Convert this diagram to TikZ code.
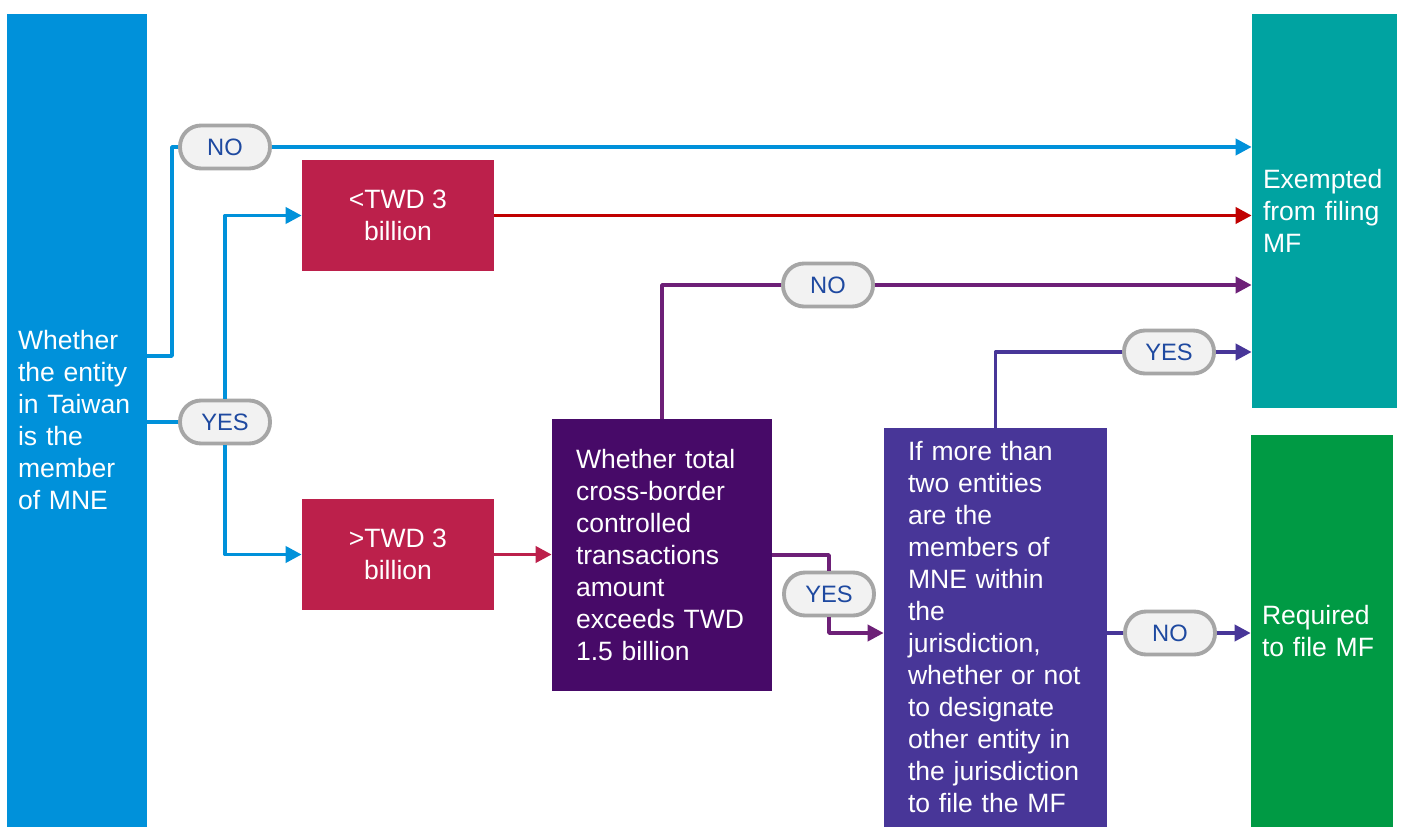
\documentclass[tikz,border=0pt]{standalone}
\usepackage{fontspec}
\setmainfont{Liberation Sans}
\usetikzlibrary{arrows.meta}

\definecolor{mneblue}{HTML}{0091DA}
\definecolor{revred}{HTML}{BC204B}
\definecolor{darkred}{HTML}{C00000}
\definecolor{totalpurple}{HTML}{470A68}
\definecolor{linepurple}{HTML}{6D2077}
\definecolor{designindigo}{HTML}{483698}
\definecolor{exemptteal}{HTML}{00A3A1}
\definecolor{requiredgreen}{HTML}{009A44}
\definecolor{pillgray}{HTML}{A6A6A6}
\definecolor{pillfill}{HTML}{F2F2F2}
\definecolor{pilltext}{HTML}{1E49A0}

\begin{document}
\begin{tikzpicture}[
    x = 0.02cm, y = -0.02cm,
    line join=round,
    boxstyle/.style = {draw=none, text=white, inner ysep=0pt, font=\fontsize{15.1}{18.2}\selectfont},
    pillstyle/.style = {draw=pillgray, line width=2.2pt, fill=pillfill, rounded corners=0.42cm,
        minimum width=1.8cm, minimum height=0.86cm, text=pilltext, font=\fontsize{13.5}{16}\selectfont},
    wire/.style = {line width=2.1pt},
    flow/.style = {wire, -{Triangle[length=0.32cm, width=0.32cm]}}
]

\fill[white] (0,0) rectangle (1402,827);
\useasboundingbox (0,0) rectangle (1402,827);

% boxes
\node[boxstyle, fill=mneblue, minimum width=2.8cm, minimum height=16.26cm,
    text width=2.36cm, inner xsep=0.22cm, align=left] (member) at (77,420.5)
    {\\[-8pt]Whether\\the entity\\in Taiwan\\is the\\member\\of MNE};
\node[boxstyle, fill=revred, minimum width=3.84cm, minimum height=2.22cm, align=center]
    (lowrev) at (398,215.5) {<TWD 3\\billion};
\node[boxstyle, fill=revred, minimum width=3.84cm, minimum height=2.22cm, align=center]
    (highrev) at (398,554.5) {>TWD 3\\billion};
\node[boxstyle, fill=totalpurple, minimum width=4.4cm, minimum height=5.44cm,
    text width=3.44cm, inner xsep=0.48cm, align=left] (total) at (662,555)
    {Whether total\\cross-border\\controlled\\transactions\\amount\\exceeds TWD\\1.5 billion};
\node[boxstyle, fill=designindigo, minimum width=4.46cm, minimum height=7.98cm,
    text width=3.5cm, inner xsep=0.48cm, align=left] (designate) at (995.5,627.5)
    {\\[-8pt]If more than\\two entities\\are the\\members of\\MNE within\\the\\jurisdiction,\\whether or not\\to designate\\other entity in\\the jurisdiction\\to file the MF};
\node[boxstyle, fill=exemptteal, minimum width=2.9cm, minimum height=7.88cm,
    text width=2.46cm, inner xsep=0.22cm, align=left] (exempt) at (1324.5,211)
    {Exempted\\from filing\\MF};
\node[boxstyle, fill=requiredgreen, minimum width=2.84cm, minimum height=7.84cm,
    text width=2.4cm, inner xsep=0.22cm, align=left] (required) at (1322,631)
    {Required\\to file MF};

% answers
\node[pillstyle] (no1) at (225,147) {NO};
\node[pillstyle] (yes1) at (225,422) {YES};
\node[pillstyle] (no2) at (828,285) {NO};
\node[pillstyle] (yes2) at (829,594) {YES};
\node[pillstyle] (yes3) at (1169,352) {YES};
\node[pillstyle] (no3) at (1170,633) {NO};

% connectors
\draw[wire, mneblue] (member.east |- 0,356) -- (172,356) |- (no1.west);
\draw[flow, mneblue] (no1.east) -- (no1.east -| exempt.west);
\draw[wire, mneblue] (member.east |- yes1) -- (yes1.west);
\draw[flow, mneblue] (yes1.north) |- (lowrev.west);
\draw[flow, mneblue] (yes1.south) |- (highrev.west);

\draw[flow, darkred] (lowrev.east) -- (lowrev.east -| exempt.west);
\draw[flow, revred] (highrev.east) -- (highrev.east -| total.west);

\draw[wire, linepurple] (total.north) |- (no2.west);
\draw[flow, linepurple] (no2.east) -- (no2.east -| exempt.west);
\draw[wire, linepurple] (total.east) -| (yes2.north);
\draw[flow, linepurple] (yes2.south) |- (designate.west |- no3);

\draw[wire, designindigo] (designate.north) |- (yes3.west);
\draw[flow, designindigo] (yes3.east) -- (yes3.east -| exempt.west);
\draw[wire, designindigo] (designate.east |- no3) -- (no3.west);
\draw[flow, designindigo] (no3.east) -- (no3.east -| required.west);

\end{tikzpicture}
\end{document}
